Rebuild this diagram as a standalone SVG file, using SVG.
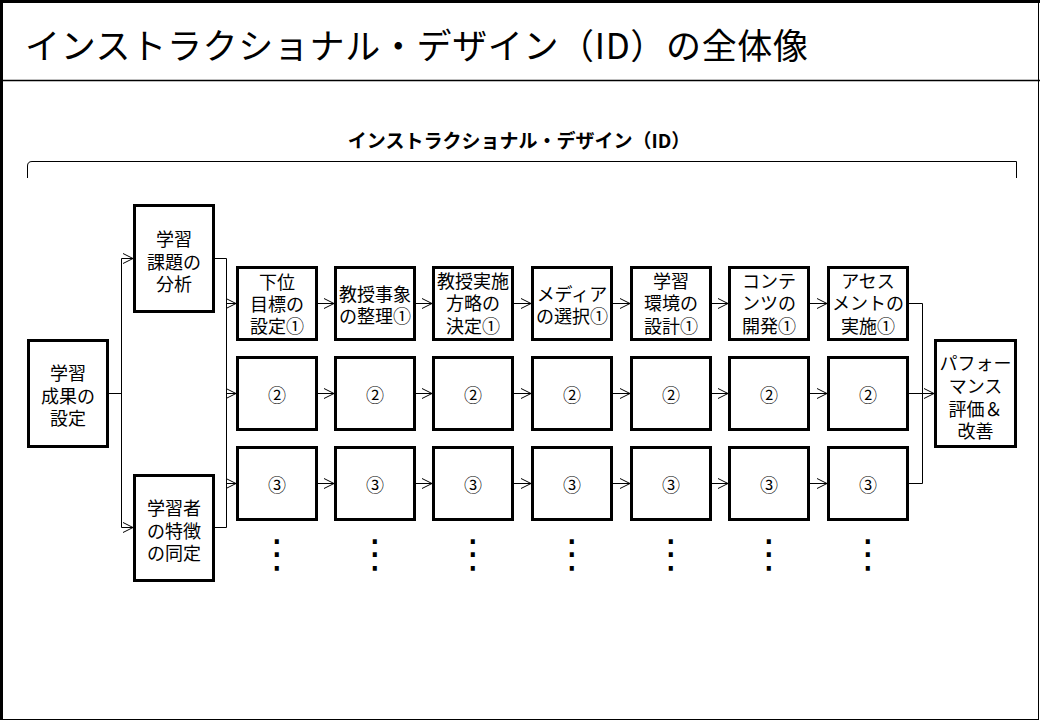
<svg xmlns="http://www.w3.org/2000/svg" width="1040" height="720" viewBox="0 0 1040 720">
<defs>
<marker id="arr" markerUnits="userSpaceOnUse" markerWidth="12" markerHeight="12" viewBox="0 0 12 12" refX="11" refY="6" orient="auto">
<path d="M1,1 L11,6 L1,11" fill="none" stroke="#000" stroke-width="1"/>
</marker>
<style>
.frame{fill:none;stroke:#000}
.box{fill:#fff;stroke:#000;stroke-width:3}
.t{font-family:"Noto Sans CJK JP","Noto Sans",sans-serif;font-size:18px;fill:#000;text-anchor:middle;dominant-baseline:central}
.c{fill:none;stroke:#000;stroke-width:1}
.a{fill:none;stroke:#000;stroke-width:1;marker-end:url(#arr)}
.dots{font-family:"DejaVu Sans",sans-serif;font-size:39px;fill:#000;text-anchor:middle}
</style>
</defs>
<rect width="1040" height="720" fill="#fff"/>
<!-- frame -->
<path class="frame" d="M1.5,0 V720 M0,1.5 H1040" stroke-width="3"/>
<path class="frame" d="M1038.5,0 V719.5 M0,719.5 H1039" stroke-width="1"/>
<path class="frame" d="M0,80.5 H1040" stroke-width="1.5"/>
<text x="25" y="59" font-family="Noto Sans CJK JP,sans-serif" font-size="35" fill="#000" textLength="783" lengthAdjust="spacing">インストラクショナル・デザイン（ID）の全体像</text>
<text x="519" y="148" font-family="Noto Sans CJK JP,sans-serif" font-size="19" font-weight="bold" fill="#000" text-anchor="middle">インストラクショナル・デザイン（ID）</text>
<path class="frame" d="M27.5,178 V166 Q27.5,161.5 32,161.5 H1016.5 V178" stroke-width="1"/>

<g id="connectors">
<path class="c" d="M109,393.5 H121.5 M121.5,258.5 V527.5"/>
<path class="a" d="M121.5,258.5 H133"/>
<path class="a" d="M121.5,527.5 H133"/>
<path class="c" d="M215,258.5 H226.5 V527.5 H215"/>
<path class="a" d="M226.5,303.5 H236"/>
<path class="a" d="M226.5,393.5 H236"/>
<path class="a" d="M226.5,483.5 H236"/>
<!-- row arrows -->
<path class="a" d="M318,303.5 H334"/><path class="a" d="M416,303.5 H432"/><path class="a" d="M514,303.5 H531"/><path class="a" d="M613,303.5 H630"/><path class="a" d="M712,303.5 H728"/><path class="a" d="M810,303.5 H827"/>
<path class="a" d="M318,393.5 H334"/><path class="a" d="M416,393.5 H432"/><path class="a" d="M514,393.5 H531"/><path class="a" d="M613,393.5 H630"/><path class="a" d="M712,393.5 H728"/><path class="a" d="M810,393.5 H827"/>
<path class="a" d="M318,483.5 H334"/><path class="a" d="M416,483.5 H432"/><path class="a" d="M514,483.5 H531"/><path class="a" d="M613,483.5 H630"/><path class="a" d="M712,483.5 H728"/><path class="a" d="M810,483.5 H827"/>
<path class="c" d="M909,303.5 H922.5 V483.5 H909"/>
<path class="a" d="M909,393.5 H934"/>
</g>

<g id="n-outcome"><rect class="box" x="28.5" y="340.5" width="79" height="106"/>
<text class="t" x="68" y="372">学習</text><text class="t" x="68" y="394.5">成果の</text><text class="t" x="68" y="417">設定</text></g>
<g id="n-task"><rect class="box" x="134.5" y="205.5" width="79" height="106"/>
<text class="t" x="174" y="238">学習</text><text class="t" x="174" y="260.5">課題の</text><text class="t" x="174" y="283">分析</text></g>
<g id="n-learner"><rect class="box" x="134.5" y="475.5" width="79" height="105"/>
<text class="t" x="174" y="507">学習者</text><text class="t" x="174" y="529.5">の特徴</text><text class="t" x="174" y="552">の同定</text></g>
<g id="n-perf"><rect class="box" x="935.5" y="340.5" width="80" height="106"/>
<text class="t" x="975.5" y="362">パフォー</text><text class="t" x="975.5" y="385">マンス</text><text class="t" x="975.5" y="408">評価＆</text><text class="t" x="975.5" y="430">改善</text></g>

<!-- row 1 -->
<g id="r1c1"><rect class="box" x="237.5" y="267.5" width="79" height="72"/>
<text class="t" x="277" y="281">下位</text><text class="t" x="277" y="303">目標の</text><text class="t" x="277" y="325">設定①</text></g>
<g id="r1c2"><rect class="box" x="335.5" y="267.5" width="79" height="72"/>
<text class="t" x="375" y="293">教授事象</text><text class="t" x="375" y="315">の整理①</text></g>
<g id="r1c3"><rect class="box" x="433.5" y="267.5" width="79" height="72"/>
<text class="t" x="473" y="280">教授実施</text><text class="t" x="473" y="302">方略の</text><text class="t" x="473" y="325">決定①</text></g>
<g id="r1c4"><rect class="box" x="532.5" y="267.5" width="79" height="72"/>
<text class="t" x="572" y="293">メディア</text><text class="t" x="572" y="315">の選択①</text></g>
<g id="r1c5"><rect class="box" x="631.5" y="267.5" width="79" height="72"/>
<text class="t" x="671" y="280">学習</text><text class="t" x="671" y="302">環境の</text><text class="t" x="671" y="325">設計①</text></g>
<g id="r1c6"><rect class="box" x="729.5" y="267.5" width="79" height="72"/>
<text class="t" x="769" y="280">コンテ</text><text class="t" x="769" y="302">ンツの</text><text class="t" x="769" y="325">開発①</text></g>
<g id="r1c7"><rect class="box" x="828.5" y="267.5" width="79" height="72"/>
<text class="t" x="868" y="280">アセス</text><text class="t" x="868" y="302">メントの</text><text class="t" x="868" y="325">実施①</text></g>

<!-- row 2 -->
<g id="r2c1"><rect class="box" x="237.5" y="357.5" width="79" height="72"/><text class="t" x="277" y="393.5">②</text></g>
<g id="r2c2"><rect class="box" x="335.5" y="357.5" width="79" height="72"/><text class="t" x="375" y="393.5">②</text></g>
<g id="r2c3"><rect class="box" x="433.5" y="357.5" width="79" height="72"/><text class="t" x="473" y="393.5">②</text></g>
<g id="r2c4"><rect class="box" x="532.5" y="357.5" width="79" height="72"/><text class="t" x="572" y="393.5">②</text></g>
<g id="r2c5"><rect class="box" x="631.5" y="357.5" width="79" height="72"/><text class="t" x="671" y="393.5">②</text></g>
<g id="r2c6"><rect class="box" x="729.5" y="357.5" width="79" height="72"/><text class="t" x="769" y="393.5">②</text></g>
<g id="r2c7"><rect class="box" x="828.5" y="357.5" width="79" height="72"/><text class="t" x="868" y="393.5">②</text></g>

<!-- row 3 -->
<g id="r3c1"><rect class="box" x="237.5" y="447.5" width="79" height="72"/><text class="t" x="277" y="483.5">③</text></g>
<g id="r3c2"><rect class="box" x="335.5" y="447.5" width="79" height="72"/><text class="t" x="375" y="483.5">③</text></g>
<g id="r3c3"><rect class="box" x="433.5" y="447.5" width="79" height="72"/><text class="t" x="473" y="483.5">③</text></g>
<g id="r3c4"><rect class="box" x="532.5" y="447.5" width="79" height="72"/><text class="t" x="572" y="483.5">③</text></g>
<g id="r3c5"><rect class="box" x="631.5" y="447.5" width="79" height="72"/><text class="t" x="671" y="483.5">③</text></g>
<g id="r3c6"><rect class="box" x="729.5" y="447.5" width="79" height="72"/><text class="t" x="769" y="483.5">③</text></g>
<g id="r3c7"><rect class="box" x="828.5" y="447.5" width="79" height="72"/><text class="t" x="868" y="483.5">③</text></g>

<!-- continuation dots -->
<g id="dots">
<text class="dots" x="277" y="567">⋮</text><text class="dots" x="375" y="567">⋮</text><text class="dots" x="473" y="567">⋮</text><text class="dots" x="572" y="567">⋮</text><text class="dots" x="671" y="567">⋮</text><text class="dots" x="769" y="567">⋮</text><text class="dots" x="868" y="567">⋮</text>
</g>
</svg>
